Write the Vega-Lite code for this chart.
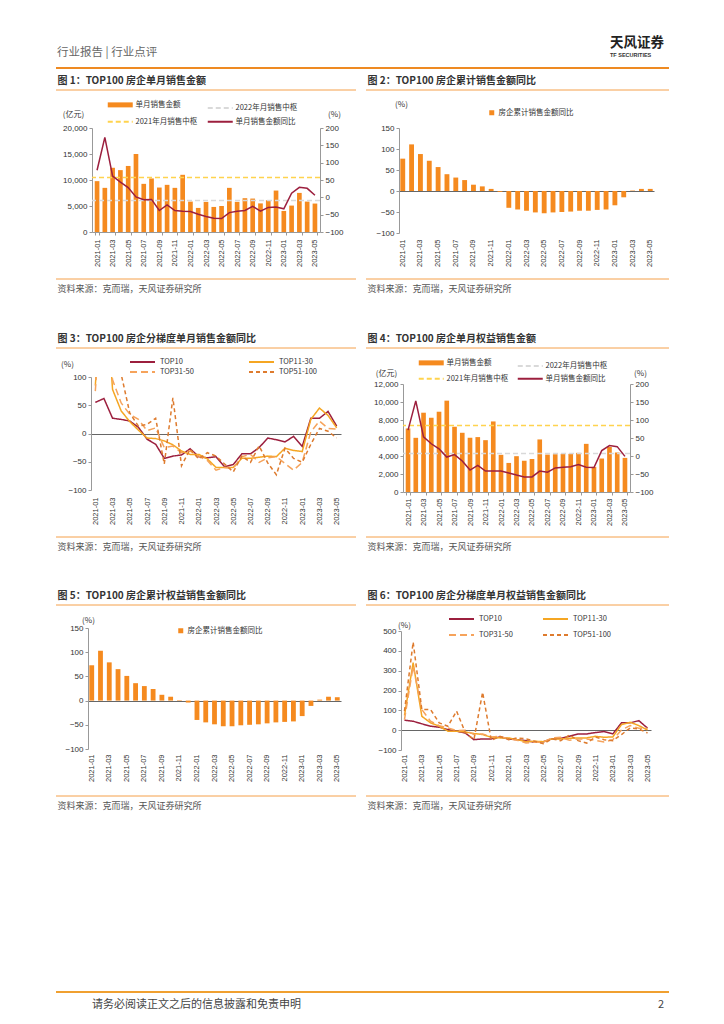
{
"$schema": "https://vega.github.io/schema/vega-lite/v6.json",
"padding": {"left": 55, "top": 0, "right": 0, "bottom": 0},
"background": "white",
"config": {
  "font": "Noto Sans CJK SC",
  "view": {"stroke": null},
  "axis": {"labelFont": "Liberation Sans", "titleFont": "Noto Sans CJK SC", "labelColor": "#333", "titleColor": "#333", "grid": false, "domainColor": "#999", "tickColor": "#999", "labelFontSize": 8, "titleFontSize": 8, "titleFontWeight": "normal", "tickSize": 3, "labelPadding": 2, "labelOverlap": false},
  "legend": {"labelFont": "Noto Sans CJK SC", "labelFontSize": 7.5, "labelColor": "#333", "padding": 0, "title": null},
  "title": {"font": "Noto Sans CJK SC", "anchor": "start", "color": "#333"}
},
"datasets": {
  "sales": [
    {"m":"2021-01","amt":9780,"yoy":78,"cum":77},
    {"m":"2021-02","amt":8490,"yoy":173,"cum":111},
    {"m":"2021-03","amt":12350,"yoy":61,"cum":88},
    {"m":"2021-04","amt":11900,"yoy":44,"cum":72},
    {"m":"2021-05","amt":12700,"yoy":28,"cum":57},
    {"m":"2021-06","amt":15000,"yoy":1,"cum":40},
    {"m":"2021-07","amt":9260,"yoy":-7,"cum":32},
    {"m":"2021-08","amt":10300,"yoy":-6,"cum":26},
    {"m":"2021-09","amt":8550,"yoy":-38,"cum":15},
    {"m":"2021-10","amt":9070,"yoy":-22,"cum":11},
    {"m":"2021-11","amt":8490,"yoy":-38,"cum":5},
    {"m":"2021-12","amt":11000,"yoy":-40,"cum":-2},
    {"m":"2022-01","amt":5850,"yoy":-41,"cum":-40},
    {"m":"2022-02","amt":4630,"yoy":-49,"cum":-44},
    {"m":"2022-03","amt":5790,"yoy":-55,"cum":-47},
    {"m":"2022-04","amt":4820,"yoy":-60,"cum":-51},
    {"m":"2022-05","amt":5000,"yoy":-61,"cum":-53},
    {"m":"2022-06","amt":8490,"yoy":-44,"cum":-51},
    {"m":"2022-07","amt":5800,"yoy":-40,"cum":-50},
    {"m":"2022-08","amt":6500,"yoy":-38,"cum":-49},
    {"m":"2022-09","amt":6430,"yoy":-26,"cum":-47},
    {"m":"2022-10","amt":5500,"yoy":-40,"cum":-47},
    {"m":"2022-11","amt":6100,"yoy":-29,"cum":-45},
    {"m":"2022-12","amt":7970,"yoy":-28,"cum":-44},
    {"m":"2023-01","amt":4050,"yoy":-33,"cum":-34},
    {"m":"2023-02","amt":5080,"yoy":12,"cum":-15},
    {"m":"2023-03","amt":7520,"yoy":29,"cum":1},
    {"m":"2023-04","amt":5850,"yoy":26,"cum":5},
    {"m":"2023-05","amt":5470,"yoy":6,"cum":5}
  ],
  "equity": [
    {"m":"2021-01","amt":7060,"yoy":72,"cum":73},
    {"m":"2021-02","amt":6020,"yoy":153,"cum":103},
    {"m":"2021-03","amt":8810,"yoy":53,"cum":79},
    {"m":"2021-04","amt":8250,"yoy":34,"cum":65},
    {"m":"2021-05","amt":8920,"yoy":20,"cum":51},
    {"m":"2021-06","amt":10150,"yoy":-3,"cum":36},
    {"m":"2021-07","amt":7250,"yoy":4,"cum":30},
    {"m":"2021-08","amt":6580,"yoy":-14,"cum":24},
    {"m":"2021-09","amt":6020,"yoy":-39,"cum":12},
    {"m":"2021-10","amt":6100,"yoy":-26,"cum":8},
    {"m":"2021-11","amt":5760,"yoy":-42,"cum":1},
    {"m":"2021-12","amt":7840,"yoy":-42,"cum":-4},
    {"m":"2022-01","amt":4130,"yoy":-42,"cum":-40},
    {"m":"2022-02","amt":3230,"yoy":-47,"cum":-45},
    {"m":"2022-03","amt":3980,"yoy":-53,"cum":-49},
    {"m":"2022-04","amt":3460,"yoy":-58,"cum":-53},
    {"m":"2022-05","amt":3680,"yoy":-58,"cum":-53},
    {"m":"2022-06","amt":5840,"yoy":-42,"cum":-51},
    {"m":"2022-07","amt":4160,"yoy":-45,"cum":-50},
    {"m":"2022-08","amt":4200,"yoy":-33,"cum":-49},
    {"m":"2022-09","amt":4240,"yoy":-31,"cum":-47},
    {"m":"2022-10","amt":4240,"yoy":-30,"cum":-45},
    {"m":"2022-11","amt":4350,"yoy":-24,"cum":-44},
    {"m":"2022-12","amt":5350,"yoy":-31,"cum":-43},
    {"m":"2023-01","amt":2790,"yoy":-32,"cum":-32},
    {"m":"2023-02","amt":3720,"yoy":15,"cum":-11},
    {"m":"2023-03","amt":5000,"yoy":29,"cum":2},
    {"m":"2023-04","amt":4390,"yoy":26,"cum":8},
    {"m":"2023-05","amt":3790,"yoy":-1,"cum":7}
  ],
  "refs": [
    {"c":1,"s":"2022年月销售中枢","v":6040},
    {"c":1,"s":"2021年月销售中枢","v":10480},
    {"c":4,"s":"2022年月销售中枢","v":4270},
    {"c":4,"s":"2021年月销售中枢","v":7400}
  ],
  "tierSales": [
    {"m":"2021-01","TOP10":55,"TOP11-30":85,"TOP31-50":75,"TOP51-100":110},
    {"m":"2021-02","TOP10":62,"TOP11-30":300,"TOP31-50":300,"TOP51-100":400},
    {"m":"2021-03","TOP10":27,"TOP11-30":78,"TOP31-50":95,"TOP51-100":130},
    {"m":"2021-04","TOP10":25,"TOP11-30":40,"TOP31-50":54,"TOP51-100":105},
    {"m":"2021-05","TOP10":22,"TOP11-30":21,"TOP31-50":34,"TOP51-100":36},
    {"m":"2021-06","TOP10":11,"TOP11-30":6,"TOP31-50":25,"TOP51-100":13},
    {"m":"2021-07","TOP10":-10,"TOP11-30":-8,"TOP31-50":5,"TOP51-100":16},
    {"m":"2021-08","TOP10":-19,"TOP11-30":-9,"TOP31-50":10,"TOP51-100":27},
    {"m":"2021-09","TOP10":-44,"TOP11-30":-13,"TOP31-50":-25,"TOP51-100":-54},
    {"m":"2021-10","TOP10":-40,"TOP11-30":-20,"TOP31-50":-22,"TOP51-100":63},
    {"m":"2021-11","TOP10":-38,"TOP11-30":-31,"TOP31-50":-34,"TOP51-100":-57},
    {"m":"2021-12","TOP10":-27,"TOP11-30":-37,"TOP31-50":-31,"TOP51-100":-28},
    {"m":"2022-01","TOP10":-41,"TOP11-30":-37,"TOP31-50":-40,"TOP51-100":-45},
    {"m":"2022-02","TOP10":-43,"TOP11-30":-45,"TOP31-50":-48,"TOP51-100":-34},
    {"m":"2022-03","TOP10":-41,"TOP11-30":-60,"TOP31-50":-65,"TOP51-100":-40},
    {"m":"2022-04","TOP10":-59,"TOP11-30":-60,"TOP31-50":-60,"TOP51-100":-54},
    {"m":"2022-05","TOP10":-55,"TOP11-30":-60,"TOP31-50":-62,"TOP51-100":-68},
    {"m":"2022-06","TOP10":-36,"TOP11-30":-44,"TOP31-50":-41,"TOP51-100":-40},
    {"m":"2022-07","TOP10":-36,"TOP11-30":-44,"TOP31-50":-37,"TOP51-100":-51},
    {"m":"2022-08","TOP10":-25,"TOP11-30":-42,"TOP31-50":-51,"TOP51-100":-22},
    {"m":"2022-09","TOP10":-8,"TOP11-30":-40,"TOP31-50":-43,"TOP51-100":-52},
    {"m":"2022-10","TOP10":-11,"TOP11-30":-41,"TOP31-50":-41,"TOP51-100":-73},
    {"m":"2022-11","TOP10":-15,"TOP11-30":-26,"TOP31-50":-53,"TOP51-100":-26},
    {"m":"2022-12","TOP10":-5,"TOP11-30":-30,"TOP31-50":-65,"TOP51-100":-44},
    {"m":"2023-01","TOP10":-23,"TOP11-30":-32,"TOP31-50":-51,"TOP51-100":-51},
    {"m":"2023-02","TOP10":27,"TOP11-30":25,"TOP31-50":3,"TOP51-100":-19},
    {"m":"2023-03","TOP10":27,"TOP11-30":45,"TOP31-50":22,"TOP51-100":9},
    {"m":"2023-04","TOP10":39,"TOP11-30":32,"TOP31-50":9,"TOP51-100":4},
    {"m":"2023-05","TOP10":13,"TOP11-30":10,"TOP31-50":8,"TOP51-100":-8}
  ],
  "tierEquity": [
    {"m":"2021-01","TOP10":50,"TOP11-30":74,"TOP31-50":53,"TOP51-100":96},
    {"m":"2021-02","TOP10":45,"TOP11-30":340,"TOP31-50":323,"TOP51-100":444},
    {"m":"2021-03","TOP10":32,"TOP11-30":70,"TOP31-50":104,"TOP51-100":104},
    {"m":"2021-04","TOP10":20,"TOP11-30":37,"TOP31-50":45,"TOP51-100":104},
    {"m":"2021-05","TOP10":15,"TOP11-30":20,"TOP31-50":23,"TOP51-100":37},
    {"m":"2021-06","TOP10":3,"TOP11-30":-5,"TOP31-50":11,"TOP51-100":20},
    {"m":"2021-07","TOP10":-5,"TOP11-30":-5,"TOP31-50":-2,"TOP51-100":96},
    {"m":"2021-08","TOP10":-14,"TOP11-30":-9,"TOP31-50":0,"TOP51-100":-11},
    {"m":"2021-09","TOP10":-48,"TOP11-30":-17,"TOP31-50":-22,"TOP51-100":-48},
    {"m":"2021-10","TOP10":-44,"TOP11-30":-22,"TOP31-50":-19,"TOP51-100":191},
    {"m":"2021-11","TOP10":-44,"TOP11-30":-36,"TOP31-50":-34,"TOP51-100":-51},
    {"m":"2021-12","TOP10":-34,"TOP11-30":-39,"TOP31-50":-31,"TOP51-100":-31},
    {"m":"2022-01","TOP10":-44,"TOP11-30":-39,"TOP31-50":-44,"TOP51-100":-48},
    {"m":"2022-02","TOP10":-48,"TOP11-30":-48,"TOP31-50":-51,"TOP51-100":-39},
    {"m":"2022-03","TOP10":-53,"TOP11-30":-58,"TOP31-50":-65,"TOP51-100":-44},
    {"m":"2022-04","TOP10":-61,"TOP11-30":-56,"TOP31-50":-60,"TOP51-100":-56},
    {"m":"2022-05","TOP10":-58,"TOP11-30":-58,"TOP31-50":-61,"TOP51-100":-68},
    {"m":"2022-06","TOP10":-44,"TOP11-30":-44,"TOP31-50":-39,"TOP51-100":-44},
    {"m":"2022-07","TOP10":-41,"TOP11-30":-44,"TOP31-50":-36,"TOP51-100":-53},
    {"m":"2022-08","TOP10":-31,"TOP11-30":-41,"TOP31-50":-51,"TOP51-100":-24},
    {"m":"2022-09","TOP10":-19,"TOP11-30":-39,"TOP31-50":-44,"TOP51-100":-53},
    {"m":"2022-10","TOP10":-19,"TOP11-30":-39,"TOP31-50":-44,"TOP51-100":-65},
    {"m":"2022-11","TOP10":-12,"TOP11-30":-31,"TOP31-50":-51,"TOP51-100":-34},
    {"m":"2022-12","TOP10":-7,"TOP11-30":-36,"TOP31-50":-60,"TOP51-100":-48},
    {"m":"2023-01","TOP10":-19,"TOP11-30":-34,"TOP31-50":-48,"TOP51-100":-53},
    {"m":"2023-02","TOP10":37,"TOP11-30":28,"TOP31-50":1,"TOP51-100":-22},
    {"m":"2023-03","TOP10":37,"TOP11-30":40,"TOP31-50":23,"TOP51-100":11},
    {"m":"2023-04","TOP10":48,"TOP11-30":23,"TOP31-50":10,"TOP51-100":6},
    {"m":"2023-05","TOP10":10,"TOP11-30":1,"TOP31-50":10,"TOP51-100":-14}
  ]
},
"spacing": 0,
"bounds": "flush",
"resolve": {"scale": {"color": "independent", "strokeDash": "independent"}, "legend": {"color": "independent", "strokeDash": "independent"}},
"vconcat": [
  {"width": 613, "height": 66, "data": {"values": [{}]}, "mark": {"type": "rule", "color": "white"}, "encoding": {"y": {"datum": 1, "type": "quantitative", "scale": {"domain": [0, 1]}, "axis": null}}},
  {"hconcat": [
    {"width": 555, "height": 1, "data": {"values": [{}]}, "mark": {"type": "rule", "color": "#EE8A22", "strokeWidth": 2}, "encoding": {"y": {"datum": 0, "type": "quantitative", "scale": {"domain": [0, 1]}, "axis": null}},
     "title": {"text": "行业报告 | 行业点评", "orient": "top", "anchor": "start", "offset": 9, "fontSize": 11.5, "fontWeight": "normal", "color": "#666", "dx": 2}},
    {"width": 58, "height": 1, "data": {"values": [{}]}, "mark": {"type": "rule", "color": "#EE8A22", "strokeWidth": 2}, "encoding": {"y": {"datum": 0, "type": "quantitative", "scale": {"domain": [0, 1]}, "axis": null}},
     "title": {"text": "天风证券", "subtitle": "TF SECURITIES", "orient": "top", "anchor": "start", "offset": 9, "fontSize": 13.5, "fontWeight": "bold", "color": "#222", "subtitleFontSize": 5.5, "subtitleColor": "#333", "subtitlePadding": 3, "subtitleFont": "Liberation Sans", "subtitleFontWeight": "bold"}}
  ], "spacing": 0, "bounds": "flush"},
  {"width": 1, "height": 22, "data": {"values": [{}]}, "mark": {"type": "rule", "opacity": 0}, "encoding": {}},
  {"hconcat": [
    {"width": 300, "height": 1, "data": {"values": [{}]}, "mark": {"type": "rule", "color": "#F5A04A", "strokeWidth": 1}, "encoding": {"y": {"datum": 0, "type": "quantitative", "scale": {"domain": [0, 1]}, "axis": null}},
     "title": {"text": "图 1：TOP100 房企单月销售金额", "orient": "top", "anchor": "start", "offset": 3, "fontSize": 10, "fontWeight": "bold", "color": "#333", "dx": 2}},
    {"width": 303, "height": 1, "data": {"values": [{}]}, "mark": {"type": "rule", "color": "#F5A04A", "strokeWidth": 1}, "encoding": {"y": {"datum": 0, "type": "quantitative", "scale": {"domain": [0, 1]}, "axis": null}},
     "title": {"text": "图 2：TOP100 房企累计销售金额同比", "orient": "top", "anchor": "start", "offset": 3, "fontSize": 10, "fontWeight": "bold", "color": "#333", "dx": 2}}
  ], "spacing": 10, "bounds": "flush"},
  {"width": 1, "height": 39, "data": {"values": [{}]}, "mark": {"type": "rule", "opacity": 0}, "encoding": {}},
  {"hconcat": [
    {"width": 36, "height": 1, "data": {"values": [{}]}, "mark": {"type": "rule", "opacity": 0}, "encoding": {}},
    {"width": 228, "height": 104,
     "layer": [
      {"data": {"name": "sales"}, "mark": {"type": "bar"},
       "encoding": {
        "x": {"field": "m", "type": "ordinal", "sort": null, "scale": {"paddingInner": 0.4, "paddingOuter": 0.35},
              "axis": {"values": ["2021-01","2021-03","2021-05","2021-07","2021-09","2021-11","2022-01","2022-03","2022-05","2022-07","2022-09","2022-11","2023-01","2023-03","2023-05"], "labelAngle": -90, "labelFontSize": 7.5, "title": null, "ticks": true, "tickSize": 3, "tickBand": "extent", "labelPadding": 4}},
        "y": {"field": "amt", "type": "quantitative", "scale": {"domain": [0, 20000], "nice": false},
              "axis": {"values": [0, 5000, 10000, 15000, 20000], "labelExpr": "format(datum.value, ',')", "title": "(亿元)", "titleAngle": 0, "titleX": -19, "titleY": -14, "titleAlign": "center", "titleBaseline": "middle"}},
        "color": {"datum": "单月销售金额", "type": "nominal",
                  "scale": {"domain": ["单月销售金额", "2022年月销售中枢", "2021年月销售中枢", "单月销售金额同比"], "range": ["#F58A1F", "#D9D9D9", "#FFD34E", "#9C1F3E"]},
                  "legend": {"orient": "none", "direction": "horizontal", "legendX": 24.5, "legendY": -27, "columns": 2, "columnPadding": 6, "rowPadding": 2, "symbolType": "M-2.5,0H2.5", "symbolSize": 100, "labelOffset": 11.5,
                             "encode": {"symbols": {"update": {
                               "stroke": {"signal": "datum.value==='单月销售金额'?'#F58A1F':datum.value==='2022年月销售中枢'?'#D9D9D9':datum.value==='2021年月销售中枢'?'#FFD34E':'#9C1F3E'"},
                               "strokeWidth": {"signal": "datum.value==='单月销售金额'?5:2"},
                               "strokeDash": {"signal": "(datum.value==='2022年月销售中枢'||datum.value==='2021年月销售中枢')?[5,3]:[]"},
                               "fill": {"value": "transparent"}, "opacity": {"value": 1}}}}}}
       }},
      {"data": {"name": "refs"}, "transform": [{"filter": "datum.c == 1"}], "mark": {"type": "rule", "strokeDash": [5, 3], "strokeWidth": 1.5},
       "encoding": {
        "y": {"field": "v", "type": "quantitative", "scale": {"domain": [0, 20000], "nice": false}, "axis": null},
        "color": {"field": "s", "type": "nominal", "scale": {"domain": ["单月销售金额", "2022年月销售中枢", "2021年月销售中枢", "单月销售金额同比"], "range": ["#F58A1F", "#D9D9D9", "#FFD34E", "#9C1F3E"]}}
       }},
      {"data": {"name": "sales"}, "mark": {"type": "line", "strokeWidth": 1.5},
       "encoding": {
        "x": {"field": "m", "type": "ordinal", "sort": null},
        "y": {"field": "yoy", "type": "quantitative", "scale": {"domain": [-100, 200], "nice": false},
              "axis": {"orient": "right", "values": [-100, -50, 0, 50, 100, 150, 200], "title": "(%)", "titleAngle": 0, "titleX": 14, "titleY": -14, "titleAlign": "center", "titleBaseline": "middle"}},
        "color": {"datum": "单月销售金额同比", "type": "nominal", "scale": {"domain": ["单月销售金额", "2022年月销售中枢", "2021年月销售中枢", "单月销售金额同比"], "range": ["#F58A1F", "#D9D9D9", "#FFD34E", "#9C1F3E"]}}
       }}
     ],
     "resolve": {"scale": {"y": "independent"}}},
    {"width": 79, "height": 1, "data": {"values": [{}]}, "mark": {"type": "rule", "opacity": 0}, "encoding": {}},
    {"width": 255, "height": 105,
     "data": {"name": "sales"}, "mark": {"type": "bar"},
     "encoding": {
      "x": {"field": "m", "type": "ordinal", "sort": null, "scale": {"paddingInner": 0.45, "paddingOuter": 0.15},
            "axis": {"values": ["2021-01","2021-03","2021-05","2021-07","2021-09","2021-11","2022-01","2022-03","2022-05","2022-07","2022-09","2022-11","2023-01","2023-03","2023-05"], "labelAngle": -90, "labelFontSize": 7.5, "title": null, "ticks": false, "domain": false, "labelPadding": 6}},
      "y": {"field": "cum", "type": "quantitative", "scale": {"domain": [-100, 150], "nice": false},
            "axis": {"values": [-100, -50, 0, 50, 100, 150], "grid": true, "gridColor": {"condition": {"test": "datum.value === 0", "value": "#666"}, "value": "transparent"}, "title": "(%)", "titleAngle": 0, "titleX": 2, "titleY": -24, "titleAlign": "center", "titleBaseline": "middle"}},
      "color": {"datum": "房企累计销售金额同比", "type": "nominal", "scale": {"domain": ["房企累计销售金额同比"], "range": ["#F58A1F"]},
                "legend": {"orient": "none", "legendX": 89, "legendY": -19, "symbolType": "square", "symbolSize": 25, "labelOffset": 3}}
     }}
  ], "spacing": 0, "bounds": "flush", "resolve": {"scale": {"color": "independent", "strokeDash": "independent"}, "legend": {"color": "independent", "strokeDash": "independent"}}},
  {"width": 1, "height": 150, "data": {"values": [{}]}, "mark": {"type": "rule", "opacity": 0}, "encoding": {}},
  {"hconcat": [
    {"width": 300, "height": 1, "data": {"values": [{}]}, "mark": {"type": "rule", "color": "#F5A04A", "strokeWidth": 1}, "encoding": {"y": {"datum": 0, "type": "quantitative", "scale": {"domain": [0, 1]}, "axis": null}},
     "title": {"text": "资料来源：克而瑞，天风证券研究所", "orient": "bottom", "anchor": "start", "offset": 5, "fontSize": 9, "fontWeight": "normal", "color": "#555", "dx": 2}},
    {"width": 303, "height": 1, "data": {"values": [{}]}, "mark": {"type": "rule", "color": "#F5A04A", "strokeWidth": 1}, "encoding": {"y": {"datum": 0, "type": "quantitative", "scale": {"domain": [0, 1]}, "axis": null}},
     "title": {"text": "资料来源：克而瑞，天风证券研究所", "orient": "bottom", "anchor": "start", "offset": 5, "fontSize": 9, "fontWeight": "normal", "color": "#555", "dx": 2}}
  ], "spacing": 10, "bounds": "flush"},
  {"width": 1, "height": 69, "data": {"values": [{}]}, "mark": {"type": "rule", "opacity": 0}, "encoding": {}},
  {"hconcat": [
    {"width": 300, "height": 1, "data": {"values": [{}]}, "mark": {"type": "rule", "color": "#F5A04A", "strokeWidth": 1}, "encoding": {"y": {"datum": 0, "type": "quantitative", "scale": {"domain": [0, 1]}, "axis": null}},
     "title": {"text": "图 3：TOP100 房企分梯度单月销售金额同比", "orient": "top", "anchor": "start", "offset": 3, "fontSize": 10, "fontWeight": "bold", "color": "#333", "dx": 2}},
    {"width": 303, "height": 1, "data": {"values": [{}]}, "mark": {"type": "rule", "color": "#F5A04A", "strokeWidth": 1}, "encoding": {"y": {"datum": 0, "type": "quantitative", "scale": {"domain": [0, 1]}, "axis": null}},
     "title": {"text": "图 4：TOP100 房企单月权益销售金额", "orient": "top", "anchor": "start", "offset": 3, "fontSize": 10, "fontWeight": "bold", "color": "#333", "dx": 2}}
  ], "spacing": 10, "bounds": "flush"},
  {"width": 1, "height": 30, "data": {"values": [{}]}, "mark": {"type": "rule", "opacity": 0}, "encoding": {}},
  {"hconcat": [
    {"width": 35, "height": 1, "data": {"values": [{}]}, "mark": {"type": "rule", "opacity": 0}, "encoding": {}},
    {"width": 250, "height": 113,
     "data": {"name": "tierSales"}, "transform": [{"fold": ["TOP10", "TOP11-30", "TOP31-50", "TOP51-100"], "as": ["tier", "v"]}],
     "mark": {"type": "line", "strokeWidth": 1.5, "clip": true},
     "encoding": {
      "x": {"field": "m", "type": "ordinal", "sort": null, "scale": {"type": "point", "padding": 0.5},
            "axis": {"values": ["2021-01","2021-03","2021-05","2021-07","2021-09","2021-11","2022-01","2022-03","2022-05","2022-07","2022-09","2022-11","2023-01","2023-03","2023-05"], "labelAngle": -90, "labelFontSize": 7.5, "title": null, "ticks": false, "domain": false, "labelPadding": 7}},
      "y": {"field": "v", "type": "quantitative", "scale": {"domain": [-100, 100], "nice": false},
            "axis": {"values": [-100, -50, 0, 50, 100], "grid": true, "gridColor": {"condition": {"test": "datum.value === 0", "value": "#666"}, "value": "transparent"}, "title": "(%)", "titleAngle": 0, "titleX": -24, "titleY": -13, "titleAlign": "center", "titleBaseline": "middle"}},
      "color": {"field": "tier", "type": "nominal", "scale": {"domain": ["TOP10", "TOP11-30", "TOP31-50", "TOP51-100"], "range": ["#9C1F3E", "#F5A623", "#F6A35B", "#DE7B2E"]},
                "legend": {"orient": "none", "direction": "horizontal", "legendX": 45.5, "legendY": -21, "columns": 2, "columnPadding": 50, "rowPadding": -2, "symbolType": "M-2.5,0H2.5", "symbolSize": 100, "labelOffset": 11.5,
                           "encode": {"symbols": {"update": {
                             "stroke": {"signal": "datum.value==='TOP10'?'#9C1F3E':datum.value==='TOP11-30'?'#F5A623':datum.value==='TOP31-50'?'#F6A35B':'#DE7B2E'"},
                             "strokeWidth": {"value": 2},
                             "strokeDash": {"signal": "datum.value==='TOP31-50'?[7,4]:datum.value==='TOP51-100'?[4,3]:[]"},
                             "fill": {"value": "transparent"}, "opacity": {"value": 1}}}}}},
      "strokeDash": {"field": "tier", "type": "nominal", "scale": {"domain": ["TOP10", "TOP11-30", "TOP31-50", "TOP51-100"], "range": [[1, 0], [1, 0], [7, 4], [4, 3]]}, "legend": null}
     }},
    {"width": 62, "height": 1, "data": {"values": [{}]}, "mark": {"type": "rule", "opacity": 0}, "encoding": {}},
    {"vconcat": [
      {"width": 1, "height": 7, "data": {"values": [{}]}, "mark": {"type": "rule", "opacity": 0}, "encoding": {}},
      {"width": 227, "height": 108,
       "layer": [
        {"data": {"name": "equity"}, "mark": {"type": "bar"},
         "encoding": {
          "x": {"field": "m", "type": "ordinal", "sort": null, "scale": {"paddingInner": 0.4, "paddingOuter": 0.35},
                "axis": {"values": ["2021-01","2021-03","2021-05","2021-07","2021-09","2021-11","2022-01","2022-03","2022-05","2022-07","2022-09","2022-11","2023-01","2023-03","2023-05"], "labelAngle": -90, "labelFontSize": 7.5, "title": null, "ticks": true, "tickSize": 3, "tickBand": "extent", "labelPadding": 3}},
          "y": {"field": "amt", "type": "quantitative", "scale": {"domain": [0, 12000], "nice": false},
                "axis": {"values": [0, 2000, 4000, 6000, 8000, 10000, 12000], "labelExpr": "format(datum.value, ',')", "title": "(亿元)", "titleAngle": 0, "titleX": -17, "titleY": -11, "titleAlign": "center", "titleBaseline": "middle"}},
          "color": {"datum": "单月销售金额", "type": "nominal",
                    "scale": {"domain": ["单月销售金额", "2022年月销售中枢", "2021年月销售中枢", "单月销售金额同比"], "range": ["#F58A1F", "#D9D9D9", "#FFD34E", "#9C1F3E"]},
                    "legend": {"orient": "none", "direction": "horizontal", "legendX": 24.5, "legendY": -25, "columns": 2, "columnPadding": 5, "rowPadding": 1, "symbolType": "M-2.5,0H2.5", "symbolSize": 100, "labelOffset": 11.5,
                               "encode": {"symbols": {"update": {
                                 "stroke": {"signal": "datum.value==='单月销售金额'?'#F58A1F':datum.value==='2022年月销售中枢'?'#D9D9D9':datum.value==='2021年月销售中枢'?'#FFD34E':'#9C1F3E'"},
                                 "strokeWidth": {"signal": "datum.value==='单月销售金额'?5:2"},
                                 "strokeDash": {"signal": "(datum.value==='2022年月销售中枢'||datum.value==='2021年月销售中枢')?[5,3]:[]"},
                                 "fill": {"value": "transparent"}, "opacity": {"value": 1}}}}}}
         }},
        {"data": {"name": "refs"}, "transform": [{"filter": "datum.c == 4"}], "mark": {"type": "rule", "strokeDash": [5, 3], "strokeWidth": 1.5},
         "encoding": {
          "y": {"field": "v", "type": "quantitative", "scale": {"domain": [0, 12000], "nice": false}, "axis": null},
          "color": {"field": "s", "type": "nominal", "scale": {"domain": ["单月销售金额", "2022年月销售中枢", "2021年月销售中枢", "单月销售金额同比"], "range": ["#F58A1F", "#D9D9D9", "#FFD34E", "#9C1F3E"]}}
         }},
        {"data": {"name": "equity"}, "mark": {"type": "line", "strokeWidth": 1.5},
         "encoding": {
          "x": {"field": "m", "type": "ordinal", "sort": null},
          "y": {"field": "yoy", "type": "quantitative", "scale": {"domain": [-100, 200], "nice": false},
                "axis": {"orient": "right", "values": [-100, -50, 0, 50, 100, 150, 200], "title": "(%)", "titleAngle": 0, "titleX": 10, "titleY": -11, "titleAlign": "center", "titleBaseline": "middle"}},
          "color": {"datum": "单月销售金额同比", "type": "nominal", "scale": {"domain": ["单月销售金额", "2022年月销售中枢", "2021年月销售中枢", "单月销售金额同比"], "range": ["#F58A1F", "#D9D9D9", "#FFD34E", "#9C1F3E"]}}
         }}
       ],
       "resolve": {"scale": {"y": "independent"}}}
    ], "spacing": 0, "bounds": "flush", "resolve": {"scale": {"color": "independent", "strokeDash": "independent"}, "legend": {"color": "independent", "strokeDash": "independent"}}}
  ], "spacing": 0, "bounds": "flush", "resolve": {"scale": {"color": "independent", "strokeDash": "independent"}, "legend": {"color": "independent", "strokeDash": "independent"}}},
  {"width": 1, "height": 159, "data": {"values": [{}]}, "mark": {"type": "rule", "opacity": 0}, "encoding": {}},
  {"hconcat": [
    {"width": 300, "height": 1, "data": {"values": [{}]}, "mark": {"type": "rule", "color": "#F5A04A", "strokeWidth": 1}, "encoding": {"y": {"datum": 0, "type": "quantitative", "scale": {"domain": [0, 1]}, "axis": null}},
     "title": {"text": "资料来源：克而瑞，天风证券研究所", "orient": "bottom", "anchor": "start", "offset": 5, "fontSize": 9, "fontWeight": "normal", "color": "#555", "dx": 2}},
    {"width": 303, "height": 1, "data": {"values": [{}]}, "mark": {"type": "rule", "color": "#F5A04A", "strokeWidth": 1}, "encoding": {"y": {"datum": 0, "type": "quantitative", "scale": {"domain": [0, 1]}, "axis": null}},
     "title": {"text": "资料来源：克而瑞，天风证券研究所", "orient": "bottom", "anchor": "start", "offset": 5, "fontSize": 9, "fontWeight": "normal", "color": "#555", "dx": 2}}
  ], "spacing": 10, "bounds": "flush"},
  {"width": 1, "height": 68, "data": {"values": [{}]}, "mark": {"type": "rule", "opacity": 0}, "encoding": {}},
  {"hconcat": [
    {"width": 300, "height": 1, "data": {"values": [{}]}, "mark": {"type": "rule", "color": "#F5A04A", "strokeWidth": 1}, "encoding": {"y": {"datum": 0, "type": "quantitative", "scale": {"domain": [0, 1]}, "axis": null}},
     "title": {"text": "图 5：TOP100 房企累计权益销售金额同比", "orient": "top", "anchor": "start", "offset": 3, "fontSize": 10, "fontWeight": "bold", "color": "#333", "dx": 2}},
    {"width": 303, "height": 1, "data": {"values": [{}]}, "mark": {"type": "rule", "color": "#F5A04A", "strokeWidth": 1}, "encoding": {"y": {"datum": 0, "type": "quantitative", "scale": {"domain": [0, 1]}, "axis": null}},
     "title": {"text": "图 6：TOP100 房企分梯度单月权益销售金额同比", "orient": "top", "anchor": "start", "offset": 3, "fontSize": 10, "fontWeight": "bold", "color": "#333", "dx": 2}}
  ], "spacing": 10, "bounds": "flush"},
  {"width": 1, "height": 24, "data": {"values": [{}]}, "mark": {"type": "rule", "opacity": 0}, "encoding": {}},
  {"hconcat": [
    {"width": 32, "height": 1, "data": {"values": [{}]}, "mark": {"type": "rule", "opacity": 0}, "encoding": {}},
    {"width": 253, "height": 121,
     "data": {"name": "equity"}, "mark": {"type": "bar"},
     "encoding": {
      "x": {"field": "m", "type": "ordinal", "sort": null, "scale": {"paddingInner": 0.45, "paddingOuter": 0.15},
            "axis": {"values": ["2021-01","2021-03","2021-05","2021-07","2021-09","2021-11","2022-01","2022-03","2022-05","2022-07","2022-09","2022-11","2023-01","2023-03","2023-05"], "labelAngle": -90, "labelFontSize": 7.5, "title": null, "ticks": false, "domain": false, "labelPadding": 5}},
      "y": {"field": "cum", "type": "quantitative", "scale": {"domain": [-100, 150], "nice": false},
            "axis": {"values": [-100, -50, 0, 50, 100, 150], "grid": true, "gridColor": {"condition": {"test": "datum.value === 0", "value": "#666"}, "value": "transparent"}, "title": "(%)", "titleAngle": 0, "titleX": 0, "titleY": -8, "titleAlign": "center", "titleBaseline": "middle"}},
      "color": {"datum": "房企累计销售金额同比", "type": "nominal", "scale": {"domain": ["房企累计销售金额同比"], "range": ["#F58A1F"]},
                "legend": {"orient": "none", "legendX": 89, "legendY": -1, "symbolType": "square", "symbolSize": 25, "labelOffset": 3}}
     }},
    {"width": 60, "height": 1, "data": {"values": [{}]}, "mark": {"type": "rule", "opacity": 0}, "encoding": {}},
    {"vconcat": [
      {"width": 1, "height": 3, "data": {"values": [{}]}, "mark": {"type": "rule", "opacity": 0}, "encoding": {}},
      {"width": 250, "height": 119,
       "data": {"name": "tierEquity"}, "transform": [{"fold": ["TOP10", "TOP11-30", "TOP31-50", "TOP51-100"], "as": ["tier", "v"]}],
       "mark": {"type": "line", "strokeWidth": 1.5, "clip": true},
       "encoding": {
        "x": {"field": "m", "type": "ordinal", "sort": null, "scale": {"type": "point", "padding": 0.4},
              "axis": {"values": ["2021-01","2021-03","2021-05","2021-07","2021-09","2021-11","2022-01","2022-03","2022-05","2022-07","2022-09","2022-11","2023-01","2023-03","2023-05"], "labelAngle": -90, "labelFontSize": 7.5, "title": null, "ticks": false, "domain": false, "labelPadding": 4}},
        "y": {"field": "v", "type": "quantitative", "scale": {"domain": [-100, 500], "nice": false},
              "axis": {"values": [-100, 0, 100, 200, 300, 400, 500], "grid": true, "gridColor": {"condition": {"test": "datum.value === 0", "value": "#666"}, "value": "transparent"}, "title": "(%)", "titleAngle": 0, "titleX": 3, "titleY": -6, "titleAlign": "center", "titleBaseline": "middle"}},
        "color": {"field": "tier", "type": "nominal", "scale": {"domain": ["TOP10", "TOP11-30", "TOP31-50", "TOP51-100"], "range": ["#9C1F3E", "#F5A623", "#F6A35B", "#DE7B2E"]},
                  "legend": {"orient": "none", "direction": "horizontal", "legendX": 54.5, "legendY": -18, "columns": 2, "columnPadding": 25, "rowPadding": 6, "symbolType": "M-2.5,0H2.5", "symbolSize": 100, "labelOffset": 11.5,
                             "encode": {"symbols": {"update": {
                               "stroke": {"signal": "datum.value==='TOP10'?'#9C1F3E':datum.value==='TOP11-30'?'#F5A623':datum.value==='TOP31-50'?'#F6A35B':'#DE7B2E'"},
                               "strokeWidth": {"value": 2},
                               "strokeDash": {"signal": "datum.value==='TOP31-50'?[7,4]:datum.value==='TOP51-100'?[4,3]:[]"},
                               "fill": {"value": "transparent"}, "opacity": {"value": 1}}}}}},
        "strokeDash": {"field": "tier", "type": "nominal", "scale": {"domain": ["TOP10", "TOP11-30", "TOP31-50", "TOP51-100"], "range": [[1, 0], [1, 0], [7, 4], [4, 3]]}, "legend": null}
       }}
    ], "spacing": 0, "bounds": "flush", "resolve": {"scale": {"color": "independent", "strokeDash": "independent"}, "legend": {"color": "independent", "strokeDash": "independent"}}}
  ], "spacing": 0, "bounds": "flush", "resolve": {"scale": {"color": "independent", "strokeDash": "independent"}, "legend": {"color": "independent", "strokeDash": "independent"}}},
  {"width": 1, "height": 167, "data": {"values": [{}]}, "mark": {"type": "rule", "opacity": 0}, "encoding": {}},
  {"hconcat": [
    {"width": 300, "height": 1, "data": {"values": [{}]}, "mark": {"type": "rule", "color": "#F5A04A", "strokeWidth": 1}, "encoding": {"y": {"datum": 0, "type": "quantitative", "scale": {"domain": [0, 1]}, "axis": null}},
     "title": {"text": "资料来源：克而瑞，天风证券研究所", "orient": "bottom", "anchor": "start", "offset": 5, "fontSize": 9, "fontWeight": "normal", "color": "#555", "dx": 2}},
    {"width": 303, "height": 1, "data": {"values": [{}]}, "mark": {"type": "rule", "color": "#F5A04A", "strokeWidth": 1}, "encoding": {"y": {"datum": 0, "type": "quantitative", "scale": {"domain": [0, 1]}, "axis": null}},
     "title": {"text": "资料来源：克而瑞，天风证券研究所", "orient": "bottom", "anchor": "start", "offset": 5, "fontSize": 9, "fontWeight": "normal", "color": "#555", "dx": 2}}
  ], "spacing": 10, "bounds": "flush"},
  {"width": 1, "height": 196, "data": {"values": [{}]}, "mark": {"type": "rule", "opacity": 0}, "encoding": {}},
  {"hconcat": [
    {"width": 590, "height": 1, "data": {"values": [{}]}, "mark": {"type": "rule", "color": "#F0A030", "strokeWidth": 2}, "encoding": {"y": {"datum": 0, "type": "quantitative", "scale": {"domain": [0, 1]}, "axis": null}},
     "title": {"text": "请务必阅读正文之后的信息披露和免责申明", "orient": "bottom", "anchor": "start", "offset": 6, "fontSize": 11, "fontWeight": "normal", "color": "#444", "dx": 37}},
    {"width": 23, "height": 1, "data": {"values": [{}]}, "mark": {"type": "rule", "color": "#F0A030", "strokeWidth": 2}, "encoding": {"y": {"datum": 0, "type": "quantitative", "scale": {"domain": [0, 1]}, "axis": null}},
     "title": {"text": "2", "orient": "bottom", "anchor": "end", "offset": 6, "fontSize": 11, "fontWeight": "normal", "color": "#444", "dx": -6}}
  ], "spacing": 0, "bounds": "flush"}
]
}
